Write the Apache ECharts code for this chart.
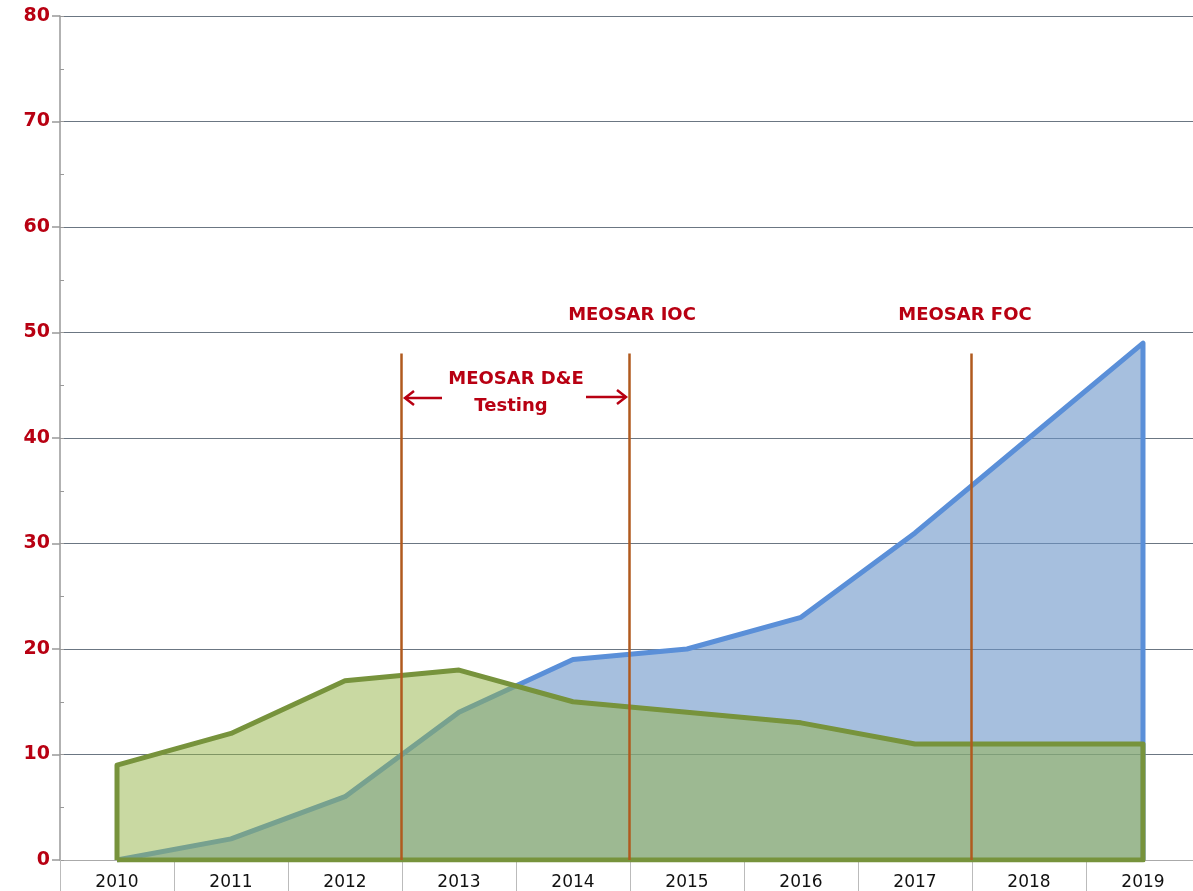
<!DOCTYPE html>
<html><head><meta charset="utf-8">
<script src="https://cdn.jsdelivr.net/npm/echarts@6/dist/echarts.min.js"></script>
<style>html,body{margin:0;padding:0;background:#fff;overflow:hidden}#c{width:1200px;height:891px}</style>
</head><body><div id="c"></div>
<script>
const years = ['2010','2011','2012','2013','2014','2015','2016','2017','2018','2019'];
const blueValues = [0, 2, 6, 14, 19, 20, 23, 31, 40, 49];
const greenValues = [9, 12, 17, 18, 15, 14, 13, 11, 11, 11];
const milestoneX = [2.49, 4.49, 7.49];
const milestoneTop = 48;
const yTicks = [0, 10, 20, 30, 40, 50, 60, 70, 80];

const bluePts = blueValues.map((v, i) => [i, v]);
bluePts.push([years.length - 1, 0]);
const greenPts = [[0, 0]].concat(greenValues.map((v, i) => [i, v]));
greenPts.push([years.length - 1, 0], [0, 0]);

const font = '"DejaVu Sans", sans-serif';
const red = '#B80012';
const chart = echarts.init(document.getElementById('c'));
chart.setOption({
  animation: false,
  grid: {left: 60, right: 0, top: 16, bottom: 31, containLabel: false},
  xAxis: [
    {type: 'category', data: years, boundaryGap: true, position: 'bottom',
     axisLine: {show: true, onZero: false, lineStyle: {color: '#aaa', width: 1}},
     axisTick: {show: true, length: 31, lineStyle: {color: '#bbb'}},
     axisLabel: {color: '#111', fontSize: 17, fontFamily: font, margin: 14},
     splitLine: {show: false}},
    {type: 'value', min: -0.5, max: 9.5, show: false}
  ],
  yAxis: [
    {type: 'value', min: 0, max: 80, interval: 10,
     axisLine: {show: true, onZero: false, lineStyle: {color: '#999', width: 1.5}},
     axisTick: {show: true, length: 8, lineStyle: {color: '#999', width: 1.5}},
     axisLabel: {color: red, fontSize: 19, fontWeight: 'bold', fontFamily: font, margin: 10,
       formatter: v => yTicks.includes(v) ? String(v) : ''},
     splitLine: {show: true, lineStyle: {color: '#6b7682', width: 1}}},
    {type: 'value', min: 0, max: 80, interval: 5, position: 'left',
     axisLine: {show: false, onZero: false}, axisLabel: {show: false}, splitLine: {show: false},
     axisTick: {show: true, inside: true, length: 4, lineStyle: {color: '#999'}}}
  ],
  series: [
    {type: 'line', xAxisIndex: 1, yAxisIndex: 0, data: bluePts, symbol: 'none',
     lineStyle: {color: '#5A8FD8', width: 5, join: 'round'},
     areaStyle: {color: 'rgba(107,148,200,0.6)', opacity: 1, origin: 0}, z: 2},
    {type: 'line', xAxisIndex: 1, yAxisIndex: 0, data: greenPts, symbol: 'none',
     lineStyle: {color: '#77933C', width: 5, join: 'round'},
     areaStyle: {color: 'rgba(147,179,69,0.5)', opacity: 1, origin: 0}, z: 3,
     markLine: {silent: true, symbol: 'none', label: {show: false},
       lineStyle: {color: '#B05A1E', width: 2.5, type: 'solid'},
       data: milestoneX.map(x => [{coord: [x, 0]}, {coord: [x, milestoneTop]}])}}
  ],
  graphic: [
    {type: 'text', x: 632, y: 315, style: {text: 'MEOSAR IOC', fill: red, font: '600 18px ' + font, align: 'center', verticalAlign: 'middle'}, z: 10},
    {type: 'text', x: 965, y: 315, style: {text: 'MEOSAR FOC', fill: red, font: '600 18px ' + font, align: 'center', verticalAlign: 'middle'}, z: 10},
    {type: 'text', x: 516, y: 379, style: {text: 'MEOSAR D&E', fill: red, font: '600 18px ' + font, align: 'center', verticalAlign: 'middle'}, z: 10},
    {type: 'text', x: 511, y: 406, style: {text: 'Testing', fill: red, font: '600 18px ' + font, align: 'center', verticalAlign: 'middle'}, z: 10},
    {type: 'polyline', shape: {points: [[442, 398], [405, 398]]}, style: {stroke: red, lineWidth: 2.5}, z: 10},
    {type: 'polyline', shape: {points: [[414, 391], [405, 398], [414, 405]]}, style: {stroke: red, lineWidth: 2.5, fill: null}, z: 10},
    {type: 'polyline', shape: {points: [[586, 397], [626, 397]]}, style: {stroke: red, lineWidth: 2.5}, z: 10},
    {type: 'polyline', shape: {points: [[617, 390], [626, 397], [617, 404]]}, style: {stroke: red, lineWidth: 2.5, fill: null}, z: 10}
  ]
});
</script></body></html>
